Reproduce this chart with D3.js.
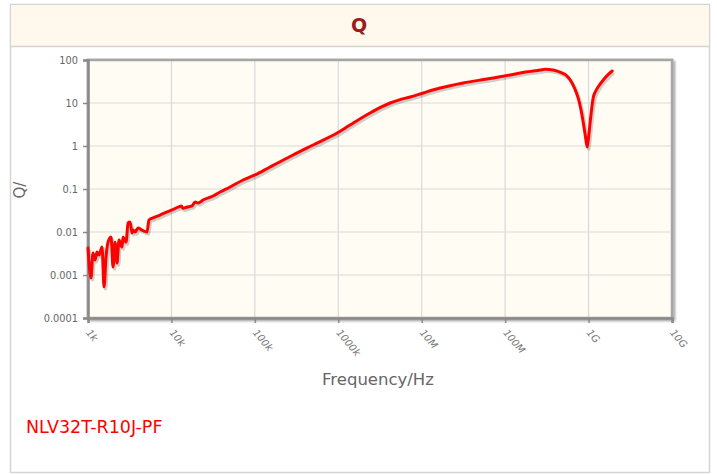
<!DOCTYPE html>
<html><head><meta charset="utf-8">
<script src="https://cdn.jsdelivr.net/npm/d3@7"></script>
<style>
html,body{margin:0;padding:0;background:#fff;}
svg{display:block;}
</style></head>
<body>
<svg id="c" width="717" height="474"></svg>
<script>
const title = "Q";
const seriesName = "NLV32T-R10J-PF";
const xTitle = "Frequency/Hz";
const yTitle = "Q/";
const xTickValues = [1e3,1e4,1e5,1e6,1e7,1e8,1e9,1e10];
const xTickLabels = ["1k","10k","100k","1000k","10M","100M","1G","10G"];
const yTickValues = [1e-4,1e-3,1e-2,1e-1,1,10,100];
const yTickLabels = ["0.0001","0.001","0.01","0.1","1","10","100"];

const freq = [1000,1086,1148,1213,1282,1355,1472,1556,1644,1738,1888,1995,2109,2228,2355,2558,2630,2858,3020,3190,3373,3467,3664,3981,4446,5093,5383,6011,7295,8852,10160,12000,13200,13700,15380,17660,19190,20840,23930,31550,38280,50470,72270,100500,152100,287000,499000,968000,1380000,2400000,3200000,4180000,5500000,7260000,10400000,16600000,31400000,60800000,115000000,174000000,263000000,302000000,377000000,478000000,540000000,603000000,680000000,750000000,810000000,861000000,920000000,962000000,1000000000,1045000000,1090000000,1135000000,1210000000,1300000000,1500000000,1700000000,1920000000];
const qVal = [0.00425,0.00085,0.00325,0.00223,0.00343,0.0029,0.0045,0.00053,0.0026,0.0058,0.0077,0.00153,0.0058,0.0019,0.0065,0.0045,0.0077,0.0058,0.0162,0.0171,0.0095,0.0111,0.0100,0.0124,0.0111,0.0100,0.019,0.0212,0.0248,0.0292,0.0325,0.038,0.040,0.0355,0.038,0.0403,0.0499,0.0472,0.0555,0.0687,0.0851,0.1114,0.162,0.212,0.325,0.618,1.055,2.0,3.07,5.85,7.9,10,12.0,13.8,17.1,22.3,29.2,36.2,44.8,52.5,58.5,61,58.5,50,44,34.3,22,13.1,7,3.6,1.6,0.95,1.6,3.6,7.5,13.1,18.5,23.5,34.3,45,55.5];

const svg = d3.select("#c");
// outer box
svg.append("rect").attr("x",10.5).attr("y",4.5).attr("width",699).attr("height",468)
  .attr("fill","#fff").attr("stroke","#d4d4d4").attr("stroke-width",1.5);
svg.append("rect").attr("x",11).attr("y",5).attr("width",698).attr("height",41)
  .attr("fill","#fef9ec");
svg.append("line").attr("x1",11).attr("x2",709).attr("y1",46.5).attr("y2",46.5)
  .attr("stroke","#d4d4d4").attr("stroke-width",1.5);
svg.append("text").attr("x",359).attr("y",32).attr("text-anchor","middle")
  .attr("font-family","DejaVu Sans").attr("font-weight","bold").attr("font-size",19)
  .attr("fill","#9b1c1c").text(title);

const L=88,R=672,T=60,B=318;
const x = d3.scaleLog().domain([1e3,1e10]).range([L,R]);
const y = d3.scaleLog().domain([1e-4,100]).range([B,T]);

const defs = svg.append("defs");
const f = defs.append("filter").attr("id","sh").attr("x","-10%").attr("y","-10%").attr("width","120%").attr("height","130%");
f.append("feGaussianBlur").attr("in","SourceAlpha").attr("stdDeviation",1.2);
f.append("feOffset").attr("dx",1.5).attr("dy",2).attr("result","ob");
f.append("feComponentTransfer").append("feFuncA").attr("type","linear").attr("slope",0.35);
const fm = f.append("feMerge"); fm.append("feMergeNode"); fm.append("feMergeNode").attr("in","SourceGraphic");

// plot frame with shadow
svg.append("rect").attr("x",L).attr("y",T).attr("width",R-L).attr("height",B-T)
  .attr("fill","#fefcf3").attr("stroke","#a0a0a0").attr("stroke-width",2.5).attr("filter","url(#sh)");
svg.append("rect").attr("x",L).attr("y",T).attr("width",R-L).attr("height",B-T)
  .attr("fill","#fefcf3");

// grid
const g = svg.append("g");
g.selectAll(".gx").data(xTickValues.slice(1,-1)).join("line")
  .attr("x1",d=>x(d)).attr("x2",d=>x(d)).attr("y1",T).attr("y2",B)
  .attr("stroke","#d9d9d9").attr("stroke-width",1.2);
g.selectAll(".gy").data(yTickValues.slice(1,-1)).join("line")
  .attr("x1",L).attr("x2",R).attr("y1",d=>y(d)).attr("y2",d=>y(d))
  .attr("stroke","#d9d9d9").attr("stroke-width",1.2);

// frame border
svg.append("rect").attr("x",L).attr("y",T).attr("width",R-L).attr("height",B-T)
  .attr("fill","none").attr("stroke","#a6a6a6").attr("stroke-width",2.5);

// axes
const xAxis = d3.axisBottom(x).tickValues(xTickValues).tickFormat((d,i)=>xTickLabels[i]).tickSize(5).tickPadding(6);
const ax = svg.append("g").attr("transform",`translate(0,${B})`).call(xAxis);
ax.select(".domain").attr("stroke","#8a8a8a").attr("stroke-width",2.5);
ax.selectAll(".tick line").attr("stroke","#8a8a8a").attr("stroke-width",1.5);
ax.selectAll(".tick text").attr("font-family","DejaVu Sans").attr("font-size",10).attr("fill","#777")
  .attr("font-style","italic")
  .attr("text-anchor","start").attr("dy",0).attr("y",0)
  .attr("transform","translate(-3,15) rotate(50)");

const yAxis = d3.axisLeft(y).tickValues(yTickValues).tickFormat((d,i)=>yTickLabels[i]).tickSize(5).tickPadding(5);
const ay = svg.append("g").attr("transform",`translate(${L},0)`).call(yAxis);
ay.select(".domain").attr("stroke","#8a8a8a").attr("stroke-width",2.5);
ay.selectAll(".tick line").attr("stroke","#8a8a8a").attr("stroke-width",1.5);
ay.selectAll(".tick text").attr("font-family","DejaVu Sans").attr("font-size",9.8).attr("fill","#666");

// line
const data = freq.map((d,i)=>[d,qVal[i]]);
const line = d3.line().x(d=>x(d[0])).y(d=>y(d[1])).curve(d3.curveMonotoneX);
svg.append("path").datum(data).attr("d",line).attr("fill","none")
  .attr("stroke","#000").attr("stroke-opacity",0.18).attr("stroke-width",3.5)
  .attr("transform","translate(1.5,2)").attr("stroke-linejoin","round");
svg.append("path").datum(data).attr("d",line).attr("fill","none")
  .attr("stroke","#ff0000").attr("stroke-width",3).attr("stroke-linejoin","round").attr("stroke-linecap","round");

// titles
svg.append("text").attr("x",378).attr("y",385).attr("text-anchor","middle")
  .attr("font-family","DejaVu Sans").attr("font-size",16.5).attr("fill","#666").text(xTitle);
svg.append("text").attr("transform","translate(25,190) rotate(-90)").attr("text-anchor","middle")
  .attr("font-family","DejaVu Sans").attr("font-size",15).attr("fill","#666").text(yTitle);

svg.append("text").attr("x",26).attr("y",433)
  .attr("font-family","DejaVu Sans").attr("font-size",17.5).attr("fill","#ff0000").text(seriesName);
</script>
</body></html>
